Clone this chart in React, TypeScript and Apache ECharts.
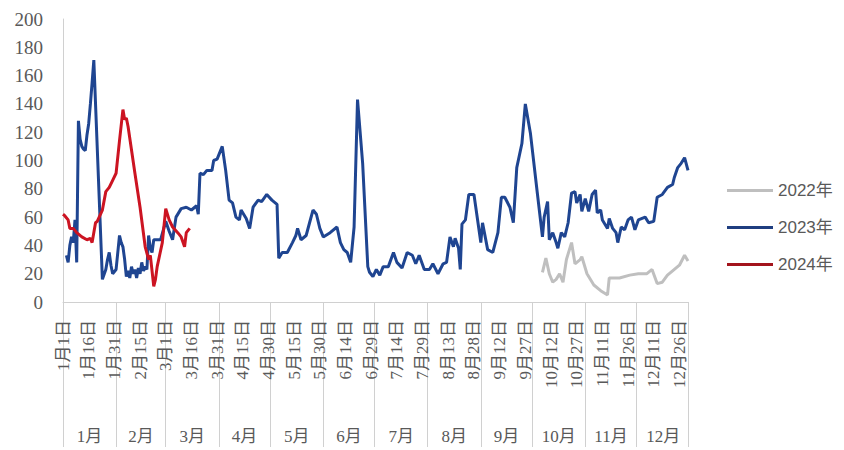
import React, { useEffect, useRef } from "react";
import * as echarts from "echarts";

// Leap-year calendar (2024 layout): day index 0 = 1月1日 … 365 = 12月31日
const monthLengths = [31, 29, 31, 30, 31, 30, 31, 31, 30, 31, 30, 31];
const monthNames = ["1月", "2月", "3月", "4月", "5月", "6月", "7月", "8月", "9月", "10月", "11月", "12月"];
const dateTickDays = [0, 15, 30, 45, 60, 75, 90, 105, 120, 135, 150, 165, 180, 195, 210, 225, 240, 255, 270, 285, 300, 315, 330, 345, 360];
const monthStartDays = [0, 31, 60, 91, 121, 152, 182, 213, 244, 274, 305, 335, 365];
const monthMidDays = [15.5, 45.5, 75.5, 106, 136.5, 167, 197.5, 228.5, 259, 289.5, 320, 350.5];

const yTicks = { min: 0, max: 200, interval: 20 };

// [day index, value]
const series2022: [number, number][] = [
  [280, 21], [282, 31], [284, 20], [286, 14], [288, 16], [290, 20], [292, 14], [294, 30],
  [297, 42], [299, 27], [302, 30], [303, 32], [306, 20], [310, 12], [314, 8], [318, 5],
  [319, 17], [325, 17], [331, 19], [336, 20], [341, 20], [344, 23], [347, 13], [350, 14],
  [353, 19], [356, 22], [360, 26], [363, 33], [365, 29],
];

const series2023: [number, number][] = [
  [2, 33], [3, 28], [4, 40], [5, 46], [6, 42], [7, 58], [8, 28], [9, 128], [10, 115],
  [11, 110], [12, 108], [13, 107], [14, 118], [15, 126], [16, 140], [17, 155], [18, 171],
  [23, 16], [25, 23], [26, 30], [27, 35], [28, 26], [29, 20], [31, 23], [33, 47], [34, 42],
  [35, 39], [36, 30], [37, 18], [38, 22], [39, 17], [40, 25], [41, 20], [42, 23], [43, 17],
  [44, 24], [45, 20], [46, 28], [47, 22], [48, 25], [49, 23], [50, 47], [51, 38], [52, 35],
  [53, 44], [55, 44], [57, 44], [60, 57], [62, 50], [64, 44], [66, 60], [69, 66], [72, 67],
  [75, 65], [78, 68], [79, 62], [80, 91], [82, 90], [84, 93], [87, 93], [88, 100], [90, 101],
  [93, 110], [95, 93], [97, 72], [99, 70], [101, 60], [103, 58], [104, 65], [107, 59],
  [109, 52], [111, 67], [114, 72], [116, 71], [119, 76], [122, 72], [125, 69], [126, 31],
  [128, 35], [131, 35], [134, 42], [136, 47], [137, 52], [139, 44], [142, 47], [144, 56],
  [146, 65], [148, 62], [150, 52], [152, 46], [156, 49], [160, 53], [162, 42], [164, 37],
  [166, 35], [168, 28], [170, 53], [172, 143], [175, 98], [178, 25], [179, 21], [181, 18],
  [183, 23], [185, 19], [187, 25], [190, 25], [193, 35], [195, 28], [198, 24], [201, 35],
  [204, 33], [206, 27], [208, 33], [211, 23], [214, 23], [216, 27], [219, 20], [222, 27],
  [224, 28], [226, 46], [228, 39], [229, 45], [231, 38], [232, 23], [233, 55], [235, 58],
  [237, 76], [240, 76], [242, 59], [244, 42], [245, 56], [248, 37], [251, 35], [254, 49],
  [256, 74], [258, 74], [261, 67], [263, 56], [265, 95], [268, 112], [270, 140], [273, 119],
  [277, 77], [280, 46], [281, 60], [283, 71], [284, 44], [286, 49], [288, 42], [289, 38],
  [291, 49], [293, 46], [295, 56], [297, 77], [299, 78], [300, 70], [302, 76], [303, 64],
  [305, 73], [307, 64], [309, 76], [311, 79], [312, 63], [314, 65], [315, 58], [318, 52],
  [319, 59], [321, 52], [323, 49], [324, 42], [326, 53], [328, 51], [330, 58], [332, 60],
  [334, 51], [336, 58], [340, 60], [342, 56], [345, 57], [347, 74], [350, 76], [353, 81],
  [356, 83], [357, 88], [359, 95], [361, 98], [363, 102], [365, 93],
];

const series2024: [number, number][] = [
  [0, 62], [1, 61], [3, 58], [4, 52], [6, 52], [8, 49], [11, 46], [14, 44], [16, 45],
  [17, 42], [19, 56], [20, 57], [23, 65], [25, 78], [27, 81], [29, 86], [31, 91], [33, 114],
  [35, 136], [36, 129], [37, 130], [38, 124], [42, 91], [45, 67], [48, 39], [50, 30],
  [51, 33], [53, 11], [54, 16], [55, 25], [58, 42], [60, 66], [62, 58], [64, 53], [67, 49],
  [69, 46], [71, 39], [72, 49], [74, 52],
];

const serifFont = '"Liberation Serif", "Times New Roman", "Noto Sans CJK SC", serif';
const sansFont = '"Liberation Sans", Arial, "Noto Sans CJK SC", sans-serif';
const labelColor = "#595959";
const lineGray = "#D0D0D0";

function dayLabel(v: number): string {
  let d = Math.round(v);
  for (let m = 0; m < 12; m++) {
    if (d < monthLengths[m]) return `${m + 1}月${d + 1}日`;
    d -= monthLengths[m];
  }
  return "";
}

function monthLabel(v: number): string {
  const i = monthMidDays.indexOf(v);
  return i >= 0 ? monthNames[i] : "";
}

export default function App() {
  const ref = useRef<HTMLDivElement>(null);
  useEffect(() => {
    if (!ref.current) return;
    const chart = echarts.init(ref.current, null, { renderer: "svg" });
    chart.setOption({
      animation: false,
      backgroundColor: "#ffffff",
      grid: { left: 63, right: 156, top: 19, bottom: 148, containLabel: false },
      legend: {
        orient: "vertical",
        left: 727,
        top: 182,
        padding: 0,
        icon: "rect",
        itemWidth: 46,
        itemHeight: 3,
        itemGap: 20,
        textStyle: { fontFamily: sansFont, fontSize: 17, color: labelColor },
        data: ["2022年", "2023年", "2024年"],
      },
      xAxis: [
        {
          type: "value",
          min: 0,
          max: 365,
          position: "bottom",
          axisLine: { show: true, lineStyle: { color: lineGray, width: 1 } },
          axisTick: {
            show: true,
            inside: false,
            length: 145,
            customValues: monthStartDays,
            lineStyle: { color: lineGray, width: 1 },
          },
          axisLabel: {
            customValues: dateTickDays,
            formatter: (v: number) => dayLabel(v),
            rotate: 90,
            margin: 18,
            fontFamily: serifFont,
            fontSize: 17,
            color: labelColor,
          },
          splitLine: { show: false },
        },
        {
          type: "value",
          min: 0,
          max: 365,
          position: "bottom",
          axisLine: { show: false },
          axisTick: { show: false },
          axisLabel: {
            customValues: monthMidDays,
            formatter: (v: number) => monthLabel(v),
            margin: 126,
            fontFamily: serifFont,
            fontSize: 17,
            color: labelColor,
          },
          splitLine: { show: false },
        },
      ],
      yAxis: {
        type: "value",
        min: yTicks.min,
        max: yTicks.max,
        interval: yTicks.interval,
        axisLine: { show: true, lineStyle: { color: lineGray, width: 1 } },
        axisTick: { show: false },
        axisLabel: { margin: 20, fontFamily: serifFont, fontSize: 19, color: labelColor },
        splitLine: { show: false },
      },
      series: [
        {
          name: "2022年",
          type: "line",
          data: series2022,
          symbol: "none",
          lineStyle: { color: "#BFBFBF", width: 3 },
          itemStyle: { color: "#BFBFBF" },
          z: 2,
        },
        {
          name: "2023年",
          type: "line",
          data: series2023,
          symbol: "none",
          lineStyle: { color: "#1F4591", width: 3 },
          itemStyle: { color: "#1F3E80" },
          z: 3,
        },
        {
          name: "2024年",
          type: "line",
          data: series2024,
          symbol: "none",
          lineStyle: { color: "#CC1422", width: 3 },
          itemStyle: { color: "#A3141C" },
          z: 4,
        },
      ],
    });
    return () => chart.dispose();
  }, []);
  return (
    <div
      ref={ref}
      style={{ position: "fixed", left: 0, top: 0, width: 844, height: 450, background: "#fff" }}
    />
  );
}
